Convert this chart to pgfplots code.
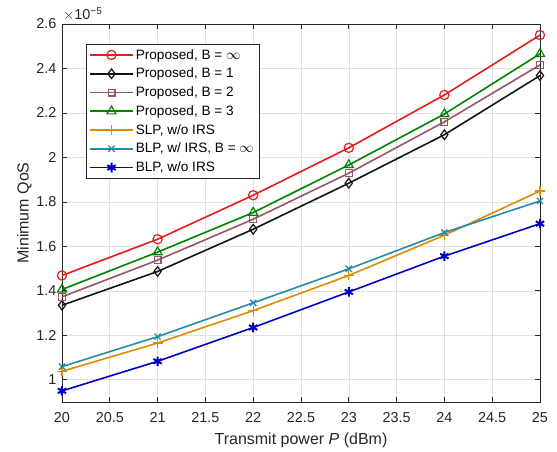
\documentclass[border=0pt]{standalone}
\usepackage{pgfplots}
\pgfplotsset{compat=1.18}
\usepackage{fontspec}
\setmainfont{Liberation Sans}
\definecolor{cRed}{RGB}{228,28,28}
\definecolor{cBlack}{RGB}{20,20,20}
\definecolor{cBrown}{RGB}{152,86,100}
\definecolor{cGreen}{RGB}{0,132,0}
\definecolor{cOrange}{RGB}{220,140,0}
\definecolor{cTeal}{RGB}{36,140,168}
\definecolor{cBlue}{RGB}{0,0,195}
\definecolor{axc}{RGB}{38,38,38}
\begin{document}
\begin{tikzpicture}
\begin{axis}[
  name=ax,
  scale only axis,
  width=478pt, height=378pt,
  xmin=20, xmax=25, ymin=0.9, ymax=2.6,
  xtick={20,20.5,21,21.5,22,22.5,23,23.5,24,24.5,25},
  xticklabels={20,20.5,21,21.5,22,22.5,23,23.5,24,24.5,25},
  ytick={1,1.2,1.4,1.6,1.8,2,2.2,2.4,2.6},
  yticklabels={1,1.2,1.4,1.6,1.8,2,2.2,2.4,2.6},
  /pgf/number format/assume math mode=true,
  tick align=inside,
  major tick length=5pt,
  grid=major,
  major grid style={color=black!12, line width=0.6pt},
  axis line style={color=axc, line width=0.7pt},
  tick style={color=axc, line width=0.7pt},
  ticklabel style={font=\fontsize{14.4}{16}\selectfont, text=axc},
  xticklabel style={yshift=-7pt},
  yticklabel style={xshift=-2pt},
  xlabel={Transmit power \textit{P} (dBm)},
  ylabel={Minimum QoS},
  label style={font=\fontsize{16}{18}\selectfont, text=axc},
  xlabel style={yshift=-3pt},
  ylabel style={yshift=-2pt},
  legend style={at={(0.05,0.947)}, anchor=north west, draw=axc, line width=0.6pt,
    font=\fontsize{13.6}{15}\selectfont, row sep=3.4pt, inner xsep=3pt, inner ysep=3pt},
  legend cell align=left,
  legend image code/.code={\draw[mark repeat=2,mark phase=2] plot coordinates {(0pt,0pt)(21.5pt,0pt)(43pt,0pt)};},
]
\addplot[color=cRed, line width=1.6pt, mark=o, mark size=4.6pt, mark options={solid, line width=1.2pt}] coordinates {
(20,1.469)(21,1.632)(22,1.830)(23,2.043)(24,2.281)(25,2.550)};
\addlegendentry{Proposed, B = $\infty$}
\addplot[color=cBlack, line width=1.6pt, mark=diamond, mark size=4.8pt, mark options={solid, line width=1.2pt}] coordinates {
(20,1.335)(21,1.487)(22,1.677)(23,1.884)(24,2.102)(25,2.368)};
\addlegendentry{Proposed, B = 1}
\addplot[color=cBrown, line width=1.6pt, mark=square, mark size=3.4pt, mark options={solid, line width=1.2pt}] coordinates {
(20,1.373)(21,1.538)(22,1.722)(23,1.929)(24,2.160)(25,2.416)};
\addlegendentry{Proposed, B = 2}
\addplot[color=cGreen, line width=1.6pt, mark=triangle, mark size=5.2pt, mark options={solid, line width=1.2pt}] coordinates {
(20,1.406)(21,1.574)(22,1.752)(23,1.966)(24,2.195)(25,2.466)};
\addlegendentry{Proposed, B = 3}
\addplot[color=cOrange, line width=1.6pt, mark=+, mark size=5pt, mark options={solid, line width=1.3pt}] coordinates {
(20,1.038)(21,1.165)(22,1.311)(23,1.469)(24,1.650)(25,1.849)};
\addlegendentry{SLP, w/o IRS}
\addplot[color=cTeal, line width=1.6pt, mark=x, mark size=4.4pt, mark options={solid, line width=1.3pt}] coordinates {
(20,1.059)(21,1.194)(22,1.346)(23,1.499)(24,1.662)(25,1.804)};
\addlegendentry{BLP, w/ IRS, B = $\infty$}
\addplot[color=cBlue, line width=1.6pt, mark=asterisk, mark size=4.8pt, mark options={solid, line width=2pt}] coordinates {
(20,0.950)(21,1.083)(22,1.235)(23,1.395)(24,1.556)(25,1.702)};
\addlegendentry{BLP, w/o IRS}
\end{axis}
\node[anchor=base west, inner sep=0pt, text=axc, font=\fontsize{14.4}{16}\selectfont] at ([xshift=1pt,yshift=4pt]ax.north west) {$\times$10\textsuperscript{−5}};
\pgfresetboundingbox
\path ([xshift=-62pt,yshift=-50pt]ax.south west) rectangle ([xshift=17pt,yshift=24pt]ax.north east);
\end{tikzpicture}
\end{document}
